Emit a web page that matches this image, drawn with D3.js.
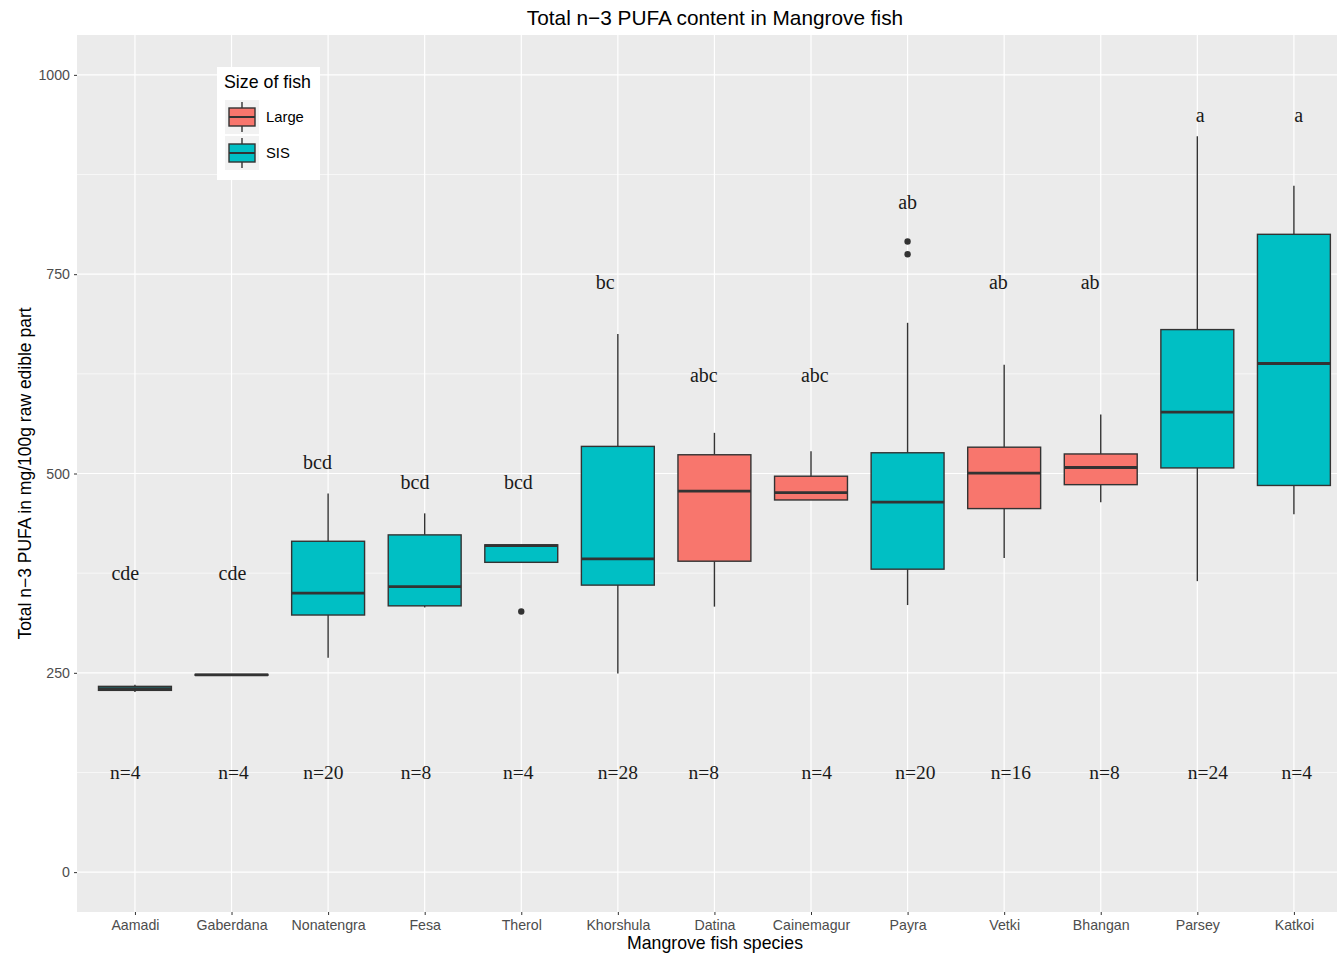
<!DOCTYPE html>
<html>
<head>
<meta charset="utf-8">
<script src="https://cdn.jsdelivr.net/npm/d3@7"></script>
<style>
  html, body { margin: 0; padding: 0; background: #fff; }
  svg { display: block; }
</style>
</head>
<body>
<svg id="chart" width="1337" height="955"></svg>
<script>
// ---- data ----
const species = ["Aamadi","Gaberdana","Nonatengra","Fesa","Therol","Khorshula","Datina","Cainemagur","Payra","Vetki","Bhangan","Parsey","Katkoi"];
const sizeGroup = ["SIS","SIS","SIS","SIS","SIS","SIS","Large","Large","SIS","Large","Large","SIS","SIS"];
const whiskerLow = [226, 246.5, 269, 332, 388.6, 249, 333, 466.8, 335, 394, 464, 365, 449];
const q1 =         [228, 247, 322.5, 334, 388.6, 360, 390, 466.8, 380, 456, 486, 507, 485];
const median =     [230, 247.5, 350, 358, 409.5, 393, 478, 476, 464, 500.5, 507.5, 577, 638];
const q3 =         [233, 248, 415, 423, 410.5, 534, 523.5, 496.6, 526, 533, 524.5, 680.5, 800];
const whiskerHigh = [235, 248.5, 475, 450, 411, 675, 551, 528, 689, 636.5, 574, 923, 861];
const outliers = [[], [], [], [], [327], [], [], [], [791, 775], [], [], [], []];
const groupLetters = ["cde","cde","bcd","bcd","bcd","bc","abc","abc","ab","ab","ab","a","a"];
const letterY = [375, 375, 515, 489, 489, 740, 623, 623, 840, 740, 740, 950, 950];
const letterShift = [-0.10, 0.01, -0.11, -0.10, -0.03, -0.13, -0.11, 0.04, 0, -0.06, -0.11, 0.03, 0.05];
const sampleN = ["n=4","n=4","n=20","n=8","n=4","n=28","n=8","n=4","n=20","n=16","n=8","n=24","n=4"];
const nY = 125;
const nShift = [-0.10, 0.02, -0.05, -0.09, -0.03, 0, -0.11, 0.06, 0.08, 0.07, 0.04, 0.11, 0.03];
const yTicks = [0, 250, 500, 750, 1000];
const legendKeys = ["Large", "SIS"];
const fillColors = {Large: "#F8766D", SIS: "#00BFC4"};

// ---- layout ----
const svg = d3.select("#chart");
const step = 96.58;
const panel = {left: 77, top: 35, bottom: 912};
const panelRight = panel.left + step * (species.length + 0.2); // extends past the image edge like the reference
const x = d3.scalePoint().domain(species).range([panel.left, panelRight]).padding(0.6);
const xc = (i) => x(species[i]);
const y = d3.scaleLinear().domain([-50, 1050]).range([panel.bottom, panel.top]);

// background panel
svg.append("rect").attr("x", panel.left).attr("y", panel.top)
  .attr("width", panelRight - panel.left).attr("height", panel.bottom - panel.top)
  .attr("fill", "#EBEBEB");

// minor gridlines
const minor = [125, 375, 625, 875];
svg.append("g").selectAll("line").data(minor).join("line")
  .attr("x1", panel.left).attr("x2", panelRight)
  .attr("y1", d => y(d)).attr("y2", d => y(d))
  .attr("stroke", "#fff").attr("stroke-width", 0.6);
// major gridlines
svg.append("g").selectAll("line").data(yTicks).join("line")
  .attr("x1", panel.left).attr("x2", panelRight)
  .attr("y1", d => y(d)).attr("y2", d => y(d))
  .attr("stroke", "#fff").attr("stroke-width", 1.2);
svg.append("g").selectAll("line").data(species).join("line")
  .attr("x1", (d, i) => xc(i)).attr("x2", (d, i) => xc(i))
  .attr("y1", panel.top).attr("y2", panel.bottom)
  .attr("stroke", "#fff").attr("stroke-width", 1.2);

const sans = "Liberation Sans, Arial, sans-serif";
// axes
const yAxis = d3.axisLeft(y).tickValues(yTicks).tickFormat(d3.format("d")).tickSize(3).tickPadding(4);
const gy = svg.append("g").attr("transform", `translate(${panel.left},0)`).call(yAxis);
gy.select(".domain").remove();
gy.selectAll(".tick line").attr("stroke", "#333").attr("stroke-width", 1);
gy.selectAll(".tick text").attr("fill", "#4d4d4d").style("font-family", sans).style("font-size", "14.2px");

const xAxis = d3.axisBottom(x).tickSize(3).tickPadding(5);
const gx = svg.append("g").attr("transform", `translate(0,${panel.bottom})`).call(xAxis);
gx.select(".domain").remove();
gx.selectAll(".tick line").attr("stroke", "#333").attr("stroke-width", 1);
gx.selectAll(".tick text").attr("fill", "#4d4d4d").style("font-family", sans).style("font-size", "14.2px");

// boxplots
const bw = step * 0.755;
const boxes = svg.append("g");
species.forEach((s, i) => {
  const cx = xc(i);
  const g = boxes.append("g");
  g.append("line").attr("x1", cx).attr("x2", cx).attr("y1", y(whiskerHigh[i])).attr("y2", y(q3[i]))
    .attr("stroke", "#333").attr("stroke-width", 1.4);
  g.append("line").attr("x1", cx).attr("x2", cx).attr("y1", y(q1[i])).attr("y2", y(whiskerLow[i]))
    .attr("stroke", "#333").attr("stroke-width", 1.4);
  g.append("rect").attr("x", cx - bw / 2).attr("y", y(q3[i]))
    .attr("width", bw).attr("height", Math.max(0.5, y(q1[i]) - y(q3[i])))
    .attr("fill", fillColors[sizeGroup[i]]).attr("stroke", "#333").attr("stroke-width", 1.4);
  g.append("line").attr("x1", cx - bw / 2).attr("x2", cx + bw / 2).attr("y1", y(median[i])).attr("y2", y(median[i]))
    .attr("stroke", "#333").attr("stroke-width", 2.8);
  outliers[i].forEach(o => {
    g.append("circle").attr("cx", cx).attr("cy", y(o)).attr("r", 3.2).attr("fill", "#333");
  });
});

// annotations
const serif = "Liberation Serif, Times New Roman, serif";
svg.append("g").selectAll("text").data(groupLetters).join("text")
  .attr("x", (d, i) => xc(i) + letterShift[i] * step)
  .attr("y", (d, i) => y(letterY[i]))
  .attr("dy", "0.35em").attr("text-anchor", "middle")
  .style("font-family", serif).style("font-size", "20px").attr("fill", "#1a1a1a")
  .text(d => d);
svg.append("g").selectAll("text").data(sampleN).join("text")
  .attr("x", (d, i) => xc(i) + nShift[i] * step)
  .attr("y", y(nY))
  .attr("dy", "0.35em").attr("text-anchor", "middle")
  .style("font-family", serif).style("font-size", "19.5px").attr("fill", "#1a1a1a")
  .text(d => d);

// titles
svg.append("text").attr("x", 715).attr("y", 25).attr("text-anchor", "middle")
  .style("font-family", sans).style("font-size", "20.8px").attr("fill", "#000")
  .text("Total n\u22123 PUFA content in Mangrove fish");
svg.append("text").attr("x", 715).attr("y", 949).attr("text-anchor", "middle")
  .style("font-family", sans).style("font-size", "17.7px").attr("fill", "#000")
  .text("Mangrove fish species");
svg.append("text").attr("transform", `translate(31,${y(500)})rotate(-90)`).attr("text-anchor", "middle")
  .style("font-family", sans).style("font-size", "17.5px").attr("fill", "#000")
  .text("Total n\u22123 PUFA in mg/100g raw edible part");

// legend
const lg = svg.append("g").attr("transform", "translate(217,67)");
lg.append("rect").attr("width", 103).attr("height", 113).attr("fill", "#fff");
lg.append("text").attr("x", 7).attr("y", 21).style("font-family", sans).style("font-size", "17.8px").attr("fill", "#000").text("Size of fish");
legendKeys.forEach((k, i) => {
  const ky = 33 + i * 36;
  const kg = lg.append("g").attr("transform", `translate(8,${ky})`);
  kg.append("rect").attr("width", 34).attr("height", 34).attr("fill", "#F2F2F2");
  kg.append("line").attr("x1", 17).attr("x2", 17).attr("y1", 2).attr("y2", 32).attr("stroke", "#333").attr("stroke-width", 1.4);
  kg.append("rect").attr("x", 4).attr("y", 8).attr("width", 26).attr("height", 18)
    .attr("fill", fillColors[k]).attr("stroke", "#333").attr("stroke-width", 1.4);
  kg.append("line").attr("x1", 4).attr("x2", 30).attr("y1", 17).attr("y2", 17).attr("stroke", "#333").attr("stroke-width", 2);
  lg.append("text").attr("x", 49).attr("y", ky + 17).attr("dy", "0.35em")
    .style("font-family", sans).style("font-size", "14.8px").attr("fill", "#000").text(k);
});
</script>
</body>
</html>
